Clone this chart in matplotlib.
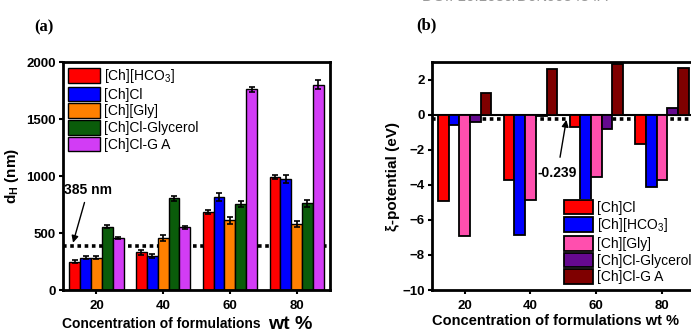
import matplotlib
matplotlib.use("Agg")
import matplotlib.pyplot as plt
import numpy as np

plt.rcParams['font.family'] = ['Liberation Sans', 'DejaVu Sans']
plt.rcParams['mathtext.fontset'] = 'custom'
plt.rcParams['mathtext.rm'] = 'Liberation Sans'
plt.rcParams['mathtext.bf'] = 'Liberation Sans:bold'

# data
conc = [20, 40, 60, 80]

labels_a = ['[Ch][HCO$_\\mathrm{3}$]', '[Ch]Cl', '[Ch][Gly]', '[Ch]Cl-Glycerol', '[Ch]Cl-G A']
colors_a = ['#ff0000', '#0000ff', '#ff8000', '#0a5c0a', '#d23cf5']
dh_hco3 = [250, 330, 685, 990]
dh_chcl = [285, 300, 815, 975]
dh_gly = [285, 455, 610, 580]
dh_glycerol = [555, 805, 755, 760]
dh_ga = [455, 550, 1760, 1800]
err_hco3 = [10, 25, 15, 20]
err_chcl = [15, 20, 35, 35]
err_gly = [12, 25, 30, 25]
err_glycerol = [12, 20, 25, 30]
err_ga = [10, 15, 25, 40]

labels_b = ['[Ch]Cl', '[Ch][HCO$_\\mathrm{3}$]', '[Ch][Gly]', '[Ch]Cl-Glycerol', '[Ch]Cl-G A']
colors_b = ['#ff0000', '#0000ff', '#ff4fae', '#65098f', '#7f0000']
zeta_chcl = [-4.95, -3.7, -0.7, -1.7]
zeta_hco3 = [-0.6, -6.85, -5.6, -4.15]
zeta_gly = [-6.9, -4.85, -3.55, -3.7]
zeta_glycerol = [-0.4, -0.05, -0.8, 0.4]
zeta_ga = [1.25, 2.6, 2.9, 2.65]

dh_all = [dh_hco3, dh_chcl, dh_gly, dh_glycerol, dh_ga]
err_all = [err_hco3, err_chcl, err_gly, err_glycerol, err_ga]
zeta_all = [zeta_chcl, zeta_hco3, zeta_gly, zeta_glycerol, zeta_ga]

fig = plt.figure(figsize=(6.91, 3.32), dpi=100)
ax1 = fig.add_axes([0.0912, 0.1265, 0.3864, 0.6867])
ax2 = fig.add_axes([0.625, 0.1265, 0.3806, 0.6867])

w = 3.25
x = np.array(conc, dtype=float)

# panel (a)
ax1.axhline(385, color='black', ls=(0, (1, 1)), lw=2.6, zorder=1)
for i in range(5):
    ax1.bar(x + (i - 2) * w, dh_all[i], w, yerr=err_all[i], color=colors_a[i],
            edgecolor='black', linewidth=1, label=labels_a[i], zorder=2,
            error_kw=dict(ecolor='black', elinewidth=1.2, capsize=2.5, capthick=1.2))
ax1.set_xlim(10, 90)
ax1.set_ylim(0, 2000)
ax1.set_xticks(conc)
ax1.set_yticks([0, 500, 1000, 1500, 2000])
ax1.set_ylabel('d$_\\mathbf{H}$ (nm)', fontsize=11, fontweight='bold', labelpad=4)
ax1.annotate('385 nm', xy=(13, 415), xytext=(17.5, 877), fontsize=10, fontweight='bold',
             ha='center', va='center',
             arrowprops=dict(arrowstyle='-|>', color='black', lw=1, shrinkA=2, shrinkB=0))
ax1.text(0.367, -0.147, 'Concentration of formulations', transform=ax1.transAxes,
         fontsize=10, fontweight='bold', ha='center', va='center')
ax1.text(0.85, -0.152, 'wt %', transform=ax1.transAxes,
         fontsize=14, fontweight='bold', ha='center', va='center')
ax1.legend(loc='upper left', frameon=False, fontsize=10, handlelength=2.3, handleheight=1.25,
           labelspacing=0.12, handletextpad=0.3, borderaxespad=0.25, borderpad=0.1)

# panel (b)
ax2.axhline(0, color='black', lw=1.5, zorder=1)
ax2.axhline(-0.239, color='black', ls=(0, (1, 1)), lw=2.6, zorder=1)
for i in range(5):
    ax2.bar(x + (i - 2) * w, zeta_all[i], w, color=colors_b[i], edgecolor='black',
            linewidth=1.3, label=labels_b[i], zorder=2)
ax2.set_xlim(10, 90)
ax2.set_ylim(-10, 3)
ax2.set_xticks(conc)
ax2.set_yticks([-10, -8, -6, -4, -2, 0, 2])
ax2.set_yticklabels(['\u221210', '\u22128', '\u22126', '\u22124', '\u22122', '0', '2'])
ax2.set_ylabel('\u03be-potential (eV)', fontsize=11, fontweight='bold', labelpad=2)
ax2.annotate('-0.239', xy=(50.9, -0.3), xytext=(48.2, -3.3), fontsize=10, fontweight='bold',
             ha='center', va='center',
             arrowprops=dict(arrowstyle='-|>', color='black', lw=1, shrinkA=4, shrinkB=0))
leg = ax2.legend(loc='upper left', bbox_to_anchor=(0.5, 0.4), frameon=True, fontsize=10,
                 handlelength=2.1, handleheight=1.25, labelspacing=0.12, handletextpad=0.3,
                 borderaxespad=0, borderpad=0.05, fancybox=False)
leg.get_frame().set_edgecolor('none')
leg.get_frame().set_facecolor('white')
leg.get_frame().set_alpha(1)
leg.set_zorder(5)

for ax in (ax1, ax2):
    for s in ax.spines.values():
        s.set_linewidth(2)
    ax.tick_params(axis='y', width=1.5, length=3, labelsize=9.5, pad=2)
    ax.tick_params(axis='x', width=1.5, length=3, labelsize=9.5, pad=4.5)
    for t in ax.get_xticklabels() + ax.get_yticklabels():
        t.set_fontweight('bold')

ax2.text(0.47, -0.138, 'Concentration of formulations wt %', transform=ax2.transAxes,
         fontsize=10.5, fontweight='bold', ha='center', va='center')

fig.text(0.05, 0.918, '(a)', fontsize=12, fontweight='bold', family='Liberation Serif',
         ha='left', va='center')
fig.text(0.603, 0.924, '(b)', fontsize=12, fontweight='bold', family='Liberation Serif',
         ha='left', va='center')
# header text cut off at the top edge of the page
fig.text(0.61, 0.996, 'DOI: 10.1039/D0NJ05484A', fontsize=11, color='#999999',
         ha='left', va='baseline')

fig.savefig('out.png', dpi=100)
